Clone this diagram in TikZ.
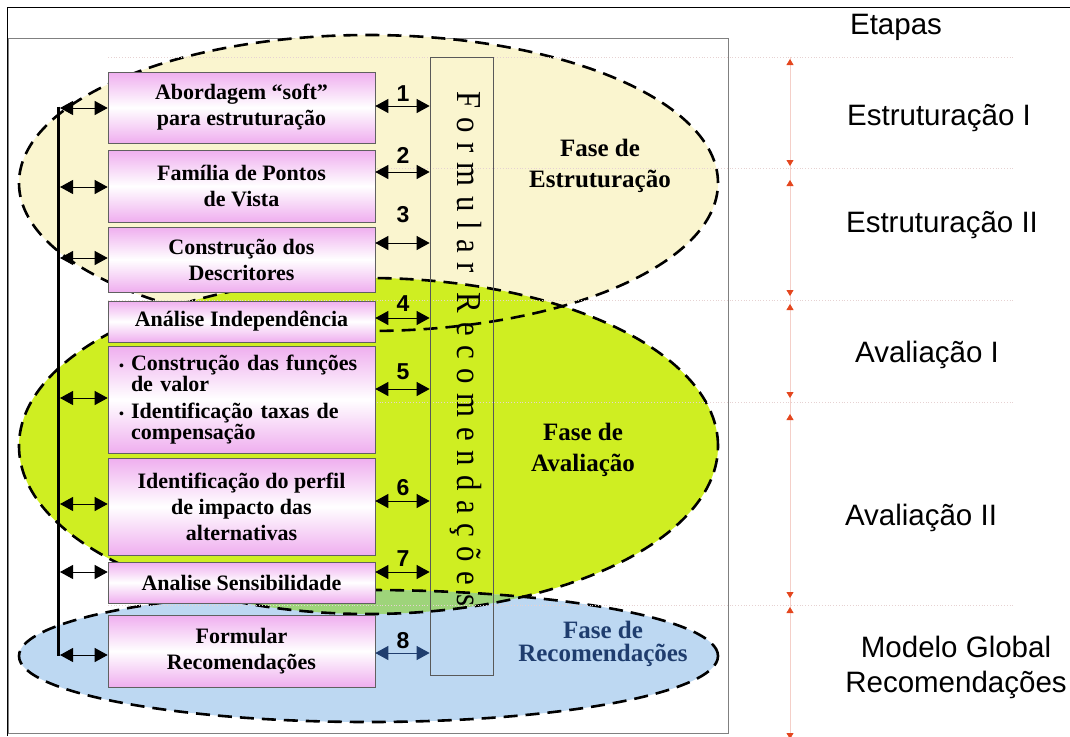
\documentclass[tikz,border=0pt]{standalone}
\usepackage{fontspec}
\setmainfont{Liberation Serif}
\newfontfamily\sansfont{Liberation Sans}
\newfontfamily\spacedfont[LetterSpace=31]{Liberation Serif}
\usetikzlibrary{arrows.meta}
\definecolor{cream}{HTML}{FAF5CF}
\definecolor{lime}{HTML}{CFEE22}
\definecolor{skyblue}{HTML}{BDD8F2}
\definecolor{mixgreen}{HTML}{9ED47A}
\definecolor{pinkbox}{HTML}{EFAEEF}
\definecolor{navy}{HTML}{1F3D6E}
\definecolor{tipred}{HTML}{E4461E}
\definecolor{paleline}{HTML}{F4CFC8}
\definecolor{guide}{HTML}{E6D2D2}
\tikzstyle{processo}=[draw=gray!75!black, line width=0.6pt, top color=pinkbox, bottom color=pinkbox, middle color=white, minimum width=267pt, inner sep=0pt, align=center, font=\fontsize{22}{26}\selectfont\bfseries]
\tikzstyle{seta}=[{Triangle[length=13pt,width=14pt]}-{Triangle[length=13pt,width=14pt]}, line width=1pt]
\tikzstyle{contorno}=[dash pattern=on 14pt off 8pt, line width=2.6pt]
\tikzstyle{numero}=[font=\sansfont\bfseries\fontsize{23}{23}\selectfont, inner sep=1pt]
\tikzstyle{fase}=[font=\fontsize{25}{31}\selectfont\bfseries, align=center]
\tikzstyle{etapa}=[font=\sansfont\fontsize{29.5}{35}\selectfont, align=center]
\tikzstyle{marca}=[{Triangle[length=6pt,width=7pt,color=tipred]}-{Triangle[length=6pt,width=7pt,color=tipred]}, draw=paleline, line width=0.8pt]

\begin{document}
\begin{tikzpicture}[x=1pt,y=-1pt]
\useasboundingbox (0,0) rectangle (1070,736);
% moldura
\draw[line width=1.6pt] (7.6,736) -- (7.6,7.6) -- (1070,7.6);
\draw[gray, line width=1pt] (8,38) rectangle (728,733);
% fases
\fill[cream] (368.5,183) ellipse [x radius=349.5pt, y radius=148pt];
\fill[lime] (368.5,446) ellipse [x radius=349.5pt, y radius=168pt];
\fill[skyblue] (368.5,656) ellipse [x radius=349.5pt, y radius=66pt];
\begin{scope}
\clip (368.5,446) ellipse [x radius=349.5pt, y radius=168pt];
\fill[mixgreen] (368.5,656) ellipse [x radius=349.5pt, y radius=66pt];
\end{scope}
\draw[contorno] (368.5,183) ellipse [x radius=349.5pt, y radius=148pt];
\draw[contorno] (368.5,446) ellipse [x radius=349.5pt, y radius=168pt];
\draw[contorno] (368.5,656) ellipse [x radius=349.5pt, y radius=66pt];
\foreach \y in {57,168,300,402,605}
  \draw[guide, dotted, line width=0.8pt] (108,\y) -- (1015,\y);

\node[draw=gray!70!black, line width=0.7pt, minimum width=63pt, minimum height=618pt, inner sep=0pt] (fr) at (461.5,366) {};
\node[rotate=-90, font=\spacedfont\fontsize{35}{35}\selectfont, inner sep=0pt] (frtexto) at (466,349) {\scalebox{0.88}[1]{Formular\hspace{22pt}Recomendações}};

% etapas do processo
\node[processo, minimum height=71pt] (p1) at (241.5,107.5) {Abordagem “soft”\\para estruturação};
\node[processo, minimum height=72pt] (p2) at (241.5,186) {Família de Pontos\\de Vista};
\node[processo, minimum height=65pt] (p3) at (241.5,259.5) {Construção dos\\Descritores};
\node[processo, minimum height=41pt] (p4) at (241.5,321.5) {Análise Independência};
\node[processo, minimum height=107pt, text width=245pt, align=left, font=\fontsize{22}{17.5}\selectfont\bfseries] (p5) at (241.5,399.5)
  {\makebox[12pt][l]{\fontsize{14}{14}\selectfont •}Construção das funções\\\hspace*{12pt}de valor\\[10pt]\makebox[12pt][l]{\fontsize{14}{14}\selectfont •}Identificação taxas de\\\hspace*{12pt}compensação};
\node[processo, minimum height=97pt] (p6) at (241.5,506.5) {Identificação do perfil\\de impacto das\\alternativas};
\node[processo, minimum height=41pt] (p7) at (241.5,582.5) {Analise Sensibilidade};
\node[processo, minimum height=72pt] (p8) at (241.5,651) {Formular\\Recomendações};

% ligacoes
\coordinate (topo) at (58.5,106.5);
\coordinate (base) at (58.5,656);
\draw[line width=2.8pt] (topo) -- (base);
\foreach \i/\ye in {1/108,2/187,3/258,5/398,6/504,7/572,8/655} {
  \coordinate (e\i) at (60,\ye);
  \draw[seta] (e\i) -- (p\i.west |- e\i);
}
\foreach \i/\yd/\yn in {1/106/94,2/172/155,3/243/215,4/318/304,5/389/372,6/501/488,7/572/559} {
  \coordinate (d\i) at (0,\yd);
  \node[numero] (n\i) at (403,\yn) {\i};
  \draw[seta] (p\i.east |- d\i) -- (fr.west |- d\i);
}
\coordinate (d8) at (0,653);
\node[numero] (n8) at (403,641) {8};
\draw[seta, navy] (p8.east |- d8) -- (fr.west |- d8);

\node[fase] (fe) at (600,166) {Fase de\\Estruturação};
\node[fase] (fa) at (583,450) {Fase de\\Avaliação};
\node[fase, text=navy, font=\fontsize{25}{23}\selectfont\bfseries] (frec) at (603,644) {Fase de\\Recomendações};

% etapas
\draw[paleline, line width=0.8pt] (790,57) -- (790,736);
\foreach \i/\a/\b in {1/59/166,2/180/296,3/304/398,4/414/598,5/607/739} {
  \coordinate (ma\i) at (790,\a);
  \coordinate (mb\i) at (790,\b);
  \draw[marca] (ma\i) -- (mb\i);
}
\node[etapa] (et0) at (896,27) {Etapas};
\node[etapa] (et1) at (939,118) {Estruturação I};
\node[etapa] (et2) at (942,225) {Estruturação II};
\node[etapa] (et3) at (927,355) {Avaliação I};
\node[etapa] (et4) at (921,518) {Avaliação II};
\node[etapa] (et5) at (956,667.5) {Modelo Global\\Recomendações};
\end{tikzpicture}
\end{document}
